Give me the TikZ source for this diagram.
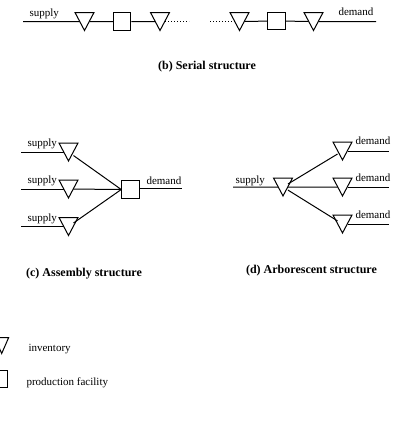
\documentclass[tikz,border=0pt]{standalone}
\usepackage{fontspec}
\setmainfont{Liberation Serif}
\begin{document}
\begin{tikzpicture}[x=1pt,y=-1pt,line width=1pt,
  lbl/.style={font=\fontsize{11}{13}\selectfont,inner sep=0pt,anchor=base west},
  captxt/.style={font=\fontsize{12}{14}\selectfont\bfseries,inner sep=0pt,anchor=base},
  inv/.style={inner sep=0pt,minimum width=9pt,minimum height=17pt,
    append after command={\pgfextra{\draw ([xshift=-4.5pt]\tikzlastnode.north west) -- ([xshift=4.5pt]\tikzlastnode.north east) -- (\tikzlastnode.south) -- cycle;}}},
  invsmall/.style={inner sep=0pt,minimum width=6.5pt,minimum height=15pt,
    append after command={\pgfextra{\draw ([xshift=-3.25pt]\tikzlastnode.north west) -- ([xshift=3.25pt]\tikzlastnode.north east) -- (\tikzlastnode.south) -- cycle;}}},
  fac/.style={draw,inner sep=0pt,minimum size=17.5pt}]
\clip (0,0) rectangle (403,447);
\useasboundingbox (0,0) rectangle (403,447);

% (b) serial
\coordinate (s0) at (23,21.5);
\node[inv] (t1) at (84.5,21.5) {};
\node[fac] (q1) at (122,21.5) {};
\node[inv] (t2) at (160,21.5) {};
\coordinate (d1) at (189,21.5);
\coordinate (d2) at (210,21.5);
\node[inv] (t3) at (239.5,21.5) {};
\node[fac] (q2) at (276.5,21) {};
\node[inv] (t4) at (313.5,21.5) {};
\coordinate (e0) at (376,21.5);
\draw (s0)--(t1) (t1)--(q1) (q1)--(t2) (t3)--(q2) (q2)--(t4) (t4)--(e0);
\draw[dotted] (t2)--(d1) (d2)--(t3);
\node[lbl] (ls0) at (29,16.5) {supply};
\node[lbl] (ld0) at (338,15) {demand};
\node[captxt] (capb) at (207,69) {(b) Serial structure};

% (c) assembly
\coordinate (as1) at (21,152);
\coordinate (as2) at (21,189);
\coordinate (as3) at (21,226.5);
\node[inv] (ta1) at (68.5,152) {};
\node[inv] (ta2) at (68.5,189) {};
\node[inv] (ta3) at (68.5,226.5) {};
\node[fac] (qa) at (130.5,189.5) {};
\coordinate (ae) at (182,188.5);
\draw (as1)--(ta1) (as2)--(ta2) (as3)--(ta3);
\draw (ta1)--(qa.west) (ta2)--(qa.west) (ta3)--(qa.west);
\draw (qa.east|-ae)--(ae);
\node[lbl] (las1) at (27,146.5) {supply};
\node[lbl] (las2) at (27,183.5) {supply};
\node[lbl] (las3) at (27,221) {supply};
\node[lbl] (lad) at (146,184) {demand};
\node[captxt] (capc) at (84,276) {(c) Assembly structure};

% (d) arborescent
\coordinate (bs) at (233,187);
\node[inv] (tr) at (283,187) {};
\node[inv] (tb1) at (342.5,151) {};
\node[inv] (tb2) at (342.5,187) {};
\node[inv] (tb3) at (342.5,224) {};
\coordinate (be1) at (389,151);
\coordinate (be2) at (389,187);
\coordinate (be3) at (389,224);
\draw (bs)--(tr) (tr)--(tb1) (tr)--(tb2) (tr)--(tb3);
\draw (tb1)--(be1) (tb2)--(be2) (tb3)--(be3);
\node[lbl] (lbs) at (235,183) {supply};
\node[lbl] (lbd1) at (355,144.5) {demand};
\node[lbl] (lbd2) at (355,181) {demand};
\node[lbl] (lbd3) at (355,218) {demand};
\node[captxt] (capd) at (311.5,273) {(d) Arborescent structure};

% legend
\node[invsmall] (lgt) at (1.7,345.5) {};
\node[fac,minimum size=17pt] (lgq) at (-1.5,378.5) {};
\node[lbl] (lgti) at (28,351.5) {inventory};
\node[lbl] (lgqi) at (26,385.5) {production facility};
\end{tikzpicture}
\end{document}
